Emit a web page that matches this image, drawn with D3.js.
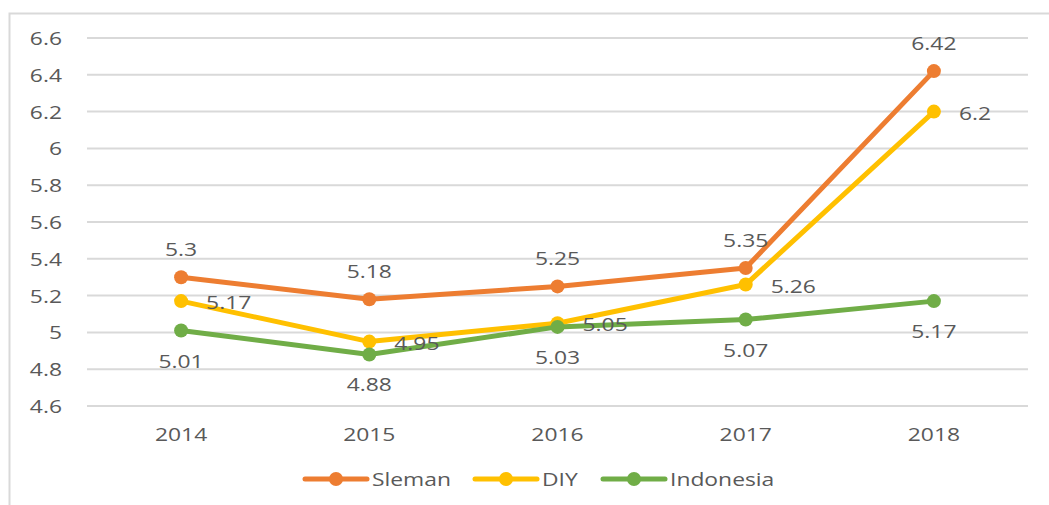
<!DOCTYPE html>
<html><head><meta charset="utf-8">
<script src="https://cdn.jsdelivr.net/npm/d3@7"></script>
<style>body{margin:0;background:#fff}svg{display:block}</style>
</head><body>
<svg id="c" width="1049" height="505"></svg>
<script>
const years = ["2014","2015","2016","2017","2018"];
const sleman = [5.3,5.18,5.25,5.35,6.42];
const diy = [5.17,4.95,5.05,5.26,6.2];
const indonesia = [5.01,4.88,5.03,5.07,5.17];
const yTicks = [4.6,4.8,5,5.2,5.4,5.6,5.8,6,6.2,6.4,6.6];
const seriesNames = ["Sleman","DIY","Indonesia"];
const colors = ["#ED7D31","#FFC000","#70AD47"];

const svg = d3.select("#c");
const SX = 1.27, FS = 18, TC = "#595959", FF = "'Open Sans', sans-serif";
function txt(g, x, y, s, anchor) {
  return g.append("text").attr("transform", `translate(${x},${y}) scale(${SX},1)`)
    .attr("text-anchor", anchor).attr("dominant-baseline", "central")
    .attr("font-family", FF).attr("font-size", FS).attr("fill", TC).text(s);
}
// chart border (top & left visible)
svg.append("path").attr("d","M9.5,505 L9.5,13.5 L1049,13.5").attr("fill","none")
  .attr("stroke","#D9D9D9").attr("stroke-width",2);

const x = d3.scalePoint().domain(years).range([87,1028]).padding(0.5);
const y = d3.scaleLinear().domain([4.6,6.6]).range([406,38]);

const grid = svg.append("g");
yTicks.forEach(t => {
  grid.append("line").attr("x1",87).attr("x2",1028).attr("y1",y(t)).attr("y2",y(t))
    .attr("stroke","#D9D9D9").attr("stroke-width",2);
  txt(grid, 62, y(t), d3.format("")(t), "end");
});
years.forEach(yr => txt(grid, x(yr), 434, yr, "middle"));

const data = [sleman, diy, indonesia];
const line = d3.line().x((d,i)=>x(years[i])).y(d=>y(d));
data.forEach((vals, k) => {
  const g = svg.append("g");
  g.append("path").attr("d", line(vals)).attr("fill","none")
    .attr("stroke", colors[k]).attr("stroke-width",5).attr("stroke-linejoin","round").attr("stroke-linecap","round");
  g.selectAll("circle").data(vals).join("circle")
    .attr("cx",(d,i)=>x(years[i])).attr("cy",d=>y(d)).attr("r",7).attr("fill",colors[k]);
});
const lab = svg.append("g");
sleman.forEach((v,i)=>txt(lab, x(years[i]), y(v)-28, String(v), "middle"));
diy.forEach((v,i)=>txt(lab, x(years[i])+25, y(v)+1, String(v), "start"));
indonesia.forEach((v,i)=>txt(lab, x(years[i]), y(v)+30, String(v), "middle"));

// legend
const legX = [305,475,603];
const leg = svg.append("g");
seriesNames.forEach((n,k)=>{
  leg.append("line").attr("x1",legX[k]).attr("x2",legX[k]+62).attr("y1",479).attr("y2",479)
    .attr("stroke",colors[k]).attr("stroke-width",5).attr("stroke-linecap","round");
  leg.append("circle").attr("cx",legX[k]+31).attr("cy",479).attr("r",7).attr("fill",colors[k]);
  txt(leg, legX[k]+67, 479, n, "start");
});
</script>
</body></html>
